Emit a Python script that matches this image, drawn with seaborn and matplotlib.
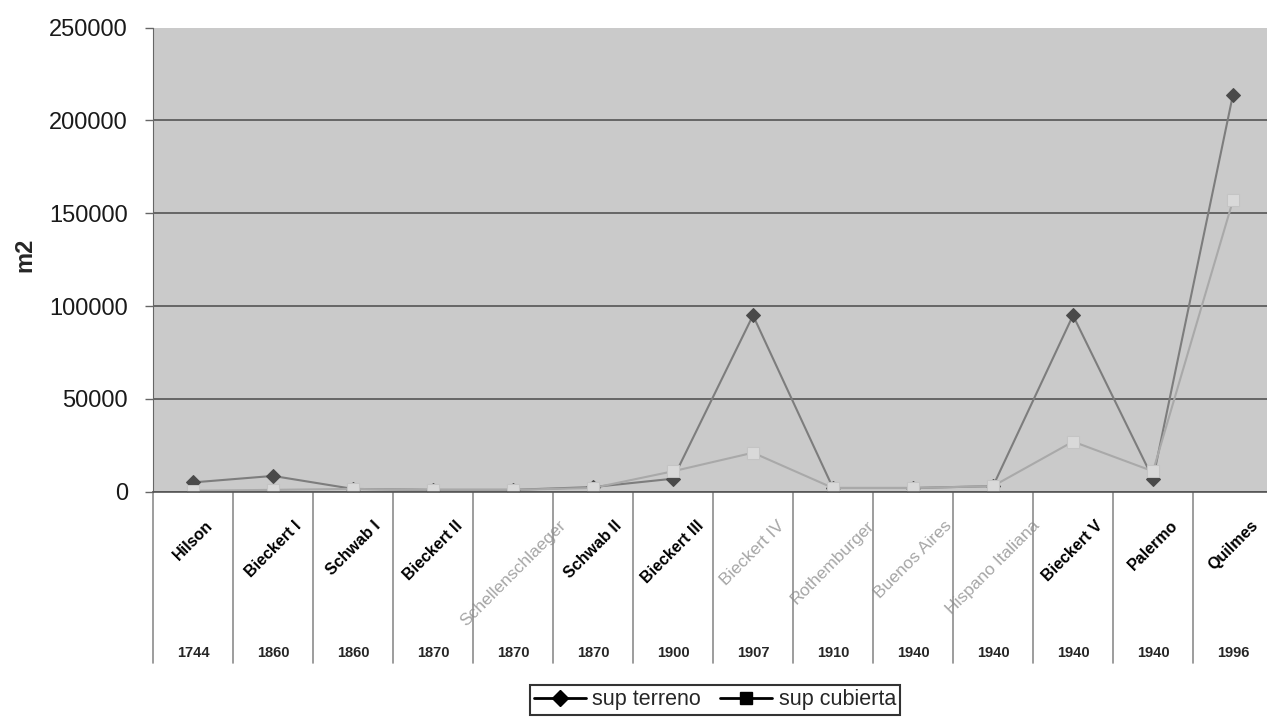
import seaborn as sns
import pandas as pd
import matplotlib
matplotlib.use('Agg')
import matplotlib.pyplot as plt
import matplotlib.transforms as mtransforms
from matplotlib.lines import Line2D

# data
plantas = ['Hilson', 'Bieckert I', 'Schwab I', 'Bieckert II', 'Schellenschlaeger',
           'Schwab II', 'Bieckert III', 'Bieckert IV', 'Rothemburger', 'Buenos Aires',
           'Hispano Italiana', 'Bieckert V', 'Palermo', 'Quilmes']
anios = ['1744', '1860', '1860', '1870', '1870', '1870', '1900', '1907', '1910',
         '1940', '1940', '1940', '1940', '1996']
sup_terreno = [5000, 8500, 1500, 1000, 1000, 2500, 7000, 95000, 2000, 2000,
               3000, 95000, 7000, 214000]
sup_cubierta = [500, 1000, 1500, 1000, 1000, 2000, 11000, 21000, 2000, 2000,
                3000, 27000, 11000, 157000]
# labels printed in light grey in the original
grises = ['Schellenschlaeger', 'Bieckert IV', 'Rothemburger', 'Buenos Aires', 'Hispano Italiana']

df = pd.DataFrame({'planta': plantas, 'terreno': sup_terreno, 'cubierta': sup_cubierta})

sns.set_style('white')
plt.rcParams['font.family'] = ['Liberation Sans', 'DejaVu Sans']

W, H = 1267, 720
fig = plt.figure(figsize=(W / 100, H / 100), dpi=100)
ax = fig.add_axes([153 / W, 1 - 491.7 / H, 1120 / W, (491.7 - 27.7) / H])
ax.set_facecolor('#cacaca')

sns.lineplot(data=df, x='planta', y='terreno', ax=ax, sort=False, color='#7d7d7d',
             linewidth=1.5, marker='D', markersize=7, markerfacecolor='#4a4a4a',
             markeredgecolor='#4a4a4a')
sns.lineplot(data=df, x='planta', y='cubierta', ax=ax, sort=False, color='#a9a9a9',
             linewidth=1.5, marker='s', markersize=9, markerfacecolor='#d9d9d9',
             markeredgecolor='#c4c4c4')

ax.set_ylim(0, 250000)
ax.set_xlim(-0.5, len(plantas) - 0.5)
ax.set_yticks([0, 50000, 100000, 150000, 200000, 250000])
ax.set_yticklabels(['0', '50000', '100000', '150000', '200000', '250000'])
ax.yaxis.grid(True, color='#555555', linewidth=1.2)
ax.yaxis.get_gridlines()[-1].set_visible(False)
ax.xaxis.grid(False)
ax.tick_params(axis='y', left=True, length=6, width=1, color='#666666',
               labelsize=17, labelcolor='#1a1a1a', pad=12)
ax.tick_params(axis='x', bottom=False, length=0, pad=19)
for s in ['top', 'right']:
    ax.spines[s].set_visible(False)
ax.spines['left'].set_color('#666666')
ax.spines['bottom'].set_color('#555555')
ax.spines['bottom'].set_linewidth(1.2)

ax.set_xlabel('')
ax.set_ylabel('m2', fontsize=17, fontweight='bold')
ax.yaxis.set_label_coords(-0.104, 0.51)

ax.set_xticks(range(len(plantas)))
ax.set_xticklabels(plantas)
for lbl in ax.get_xticklabels():
    lbl.set_rotation(45)
    lbl.set_ha('center')
    lbl.set_va('top')
    if lbl.get_text() in grises:
        lbl.set_color('#a6a6a6')
        lbl.set_fontsize(12.5)
    else:
        lbl.set_color('black')
        lbl.set_fontweight('bold')
        lbl.set_fontsize(11.5)

# table under the axis: column dividers and year row
trans = mtransforms.blended_transform_factory(ax.transData, fig.transFigure)
for i in range(len(plantas) + 1):
    ax.plot([i - 0.5, i - 0.5], [1 - 491.7 / H, 1 - 663 / H], transform=trans,
            color='#8c8c8c', linewidth=1.2, clip_on=False)
for i, a in enumerate(anios):
    ax.text(i, 1 - 653 / H, a, transform=trans, ha='center', va='center',
            fontsize=10.5, fontweight='bold', family=['Liberation Sans Narrow', 'Liberation Sans'])

handles = [Line2D([], [], color='black', linewidth=2, marker='D', markersize=8),
           Line2D([], [], color='black', linewidth=2, marker='s', markersize=8)]
leg = fig.legend(handles, ['sup terreno', 'sup cubierta'], loc='center',
                 bbox_to_anchor=(715 / W, 1 - 700 / H), ncol=2, fontsize=15.5,
                 frameon=True, fancybox=False, handlelength=2.4, handletextpad=0.3,
                 columnspacing=0.9, borderpad=0.2, borderaxespad=0)
leg.get_frame().set_edgecolor('black')
leg.get_frame().set_linewidth(1.5)
leg.get_frame().set_facecolor('white')

fig.savefig('out.png', dpi=100)
